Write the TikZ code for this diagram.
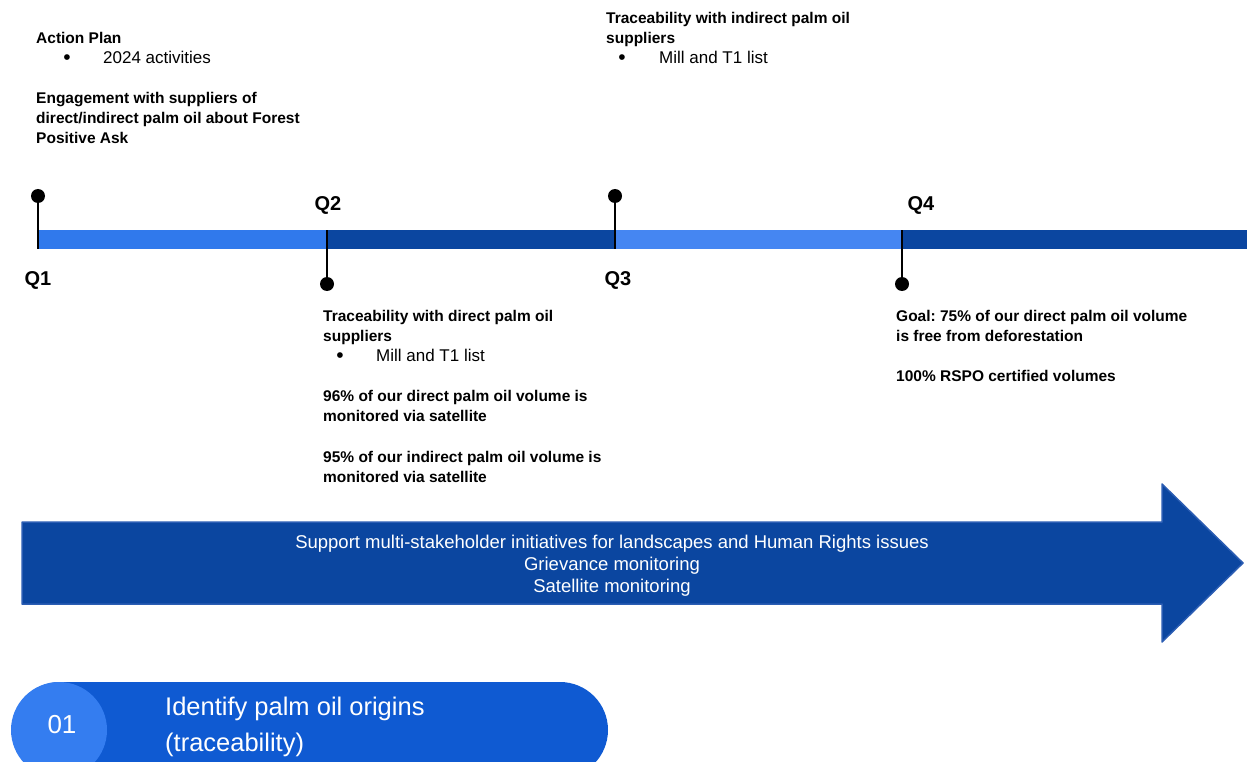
\documentclass[tikz,border=0pt]{standalone}
\usepackage{fontspec}
\setmainfont{Liberation Sans}
\frenchspacing
\definecolor{lightbar}{HTML}{3079EC}
\definecolor{lightbarb}{HTML}{4586F2}
\definecolor{darkbar}{HTML}{0B46A0}
\definecolor{arrowedge}{HTML}{2B5DB3}
\definecolor{pillblue}{HTML}{0F5AD2}
\definecolor{circblue}{HTML}{347DF0}
\tikzset{
  txt/.style={anchor=base west, inner sep=0pt, align=left, font=\fontsize{15.5}{20}\selectfont\bfseries},
  plain/.style={anchor=base west, inner sep=0pt, font=\fontsize{17}{20}\selectfont},
  bul/.style={anchor=base, inner sep=0pt, font=\fontsize{21}{20}\selectfont},
  qlab/.style={inner sep=0pt, font=\fontsize{20}{24}\selectfont\bfseries},
  stem/.style={line width=1.3pt, black},
  dot/.style={circle, fill=black, minimum size=14pt, inner sep=0pt},
}
\begin{document}
\begin{tikzpicture}[x=1pt,y=-1pt]
\useasboundingbox (0,0) rectangle (1248,762);
\clip (0,0) rectangle (1248,762);
% timeline bar
\fill[lightbar] (38,230) rectangle (327,249);
\fill[darkbar] (327,230) rectangle (615,249);
\fill[lightbarb] (615,230) rectangle (902,249);
\fill[darkbar] (902,230) rectangle (1247,249);
% ticks
\coordinate (t1) at (38,249);
\coordinate (t2) at (327,230);
\coordinate (t3) at (615,249);
\coordinate (t4) at (902,230);
\node[dot] (d1) at (38,196) {};
\node[dot] (d2) at (327,284) {};
\node[dot] (d3) at (615,196) {};
\node[dot] (d4) at (902,284) {};
\draw[stem] (d1.center) -- (t1);
\draw[stem] (d2.center) -- (t2);
\draw[stem] (d3.center) -- (t3);
\draw[stem] (d4.center) -- (t4);
\node[qlab] (q1) at (38,280) {Q1};
\node[qlab] (q2) at (328,205) {Q2};
\node[qlab] (q3) at (618,280) {Q3};
\node[qlab] (q4) at (921,205) {Q4};
% Q1 texts
\node[txt] (a1) at (36,44) {Action Plan};
\node[bul] (a2b) at (67,65) {\textbullet};
\node[plain] (a2) at (103,64) {2024 activities};
\node[txt] (a3) at (36,144) {Engagement with suppliers of\\direct/indirect palm oil about Forest\\Positive Ask};
% Q3 texts
\node[txt] (c1) at (606,44) {Traceability with indirect palm oil\\suppliers};
\node[bul] (c2b) at (622,65) {\textbullet};
\node[plain] (c2) at (659,64) {Mill and T1 list};
% Q2 texts
\node[txt] (b1) at (323,341) {Traceability with direct palm oil\\suppliers};
\node[bul] (b2b) at (340,362) {\textbullet};
\node[plain] (b2) at (376,361) {Mill and T1 list};
\node[txt] (b3) at (323,421) {96\% of our direct palm oil volume is\\monitored via satellite};
\node[txt] (b4) at (323,482) {95\% of our indirect palm oil volume is\\monitored via satellite};
% Q4 texts
\node[txt] (e1) at (896,341) {Goal: 75\% of our direct palm oil volume\\is free from deforestation};
\node[txt] (e2) at (896,381) {100\% RSPO certified volumes};
% big arrow
\draw[fill=darkbar, draw=arrowedge, line width=1.5pt, line join=round]
  (22,522) -- (1162,522) -- (1162,484) -- (1243,563) -- (1162,642) -- (1162,604) -- (22,604) -- cycle;
\node[inner sep=0pt, align=center, text=white, font=\fontsize{18.5}{22}\selectfont] (arr) at (612,566)
  {Support multi-stakeholder initiatives for landscapes and Human Rights issues\\Grievance monitoring\\Satellite monitoring};
% pill
\fill[pillblue, rounded corners=48pt] (12,682) rectangle (608,778);
\fill[circblue] (59,730) circle (48);
\node[text=white, inner sep=0pt, font=\fontsize{26}{30}\selectfont] (n01) at (62,725) {01};
\node[text=white, anchor=west, inner sep=0pt, align=left, font=\fontsize{25.5}{36}\selectfont] (pt) at (165,727)
  {Identify palm oil origins\\(traceability)};
\end{tikzpicture}
\end{document}
